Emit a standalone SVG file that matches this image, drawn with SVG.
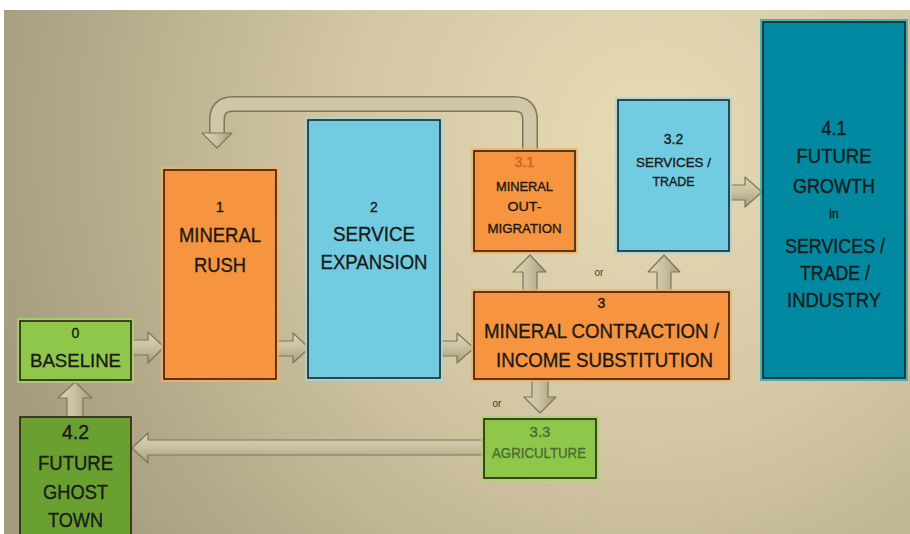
<svg xmlns="http://www.w3.org/2000/svg" width="910" height="534" viewBox="0 0 910 534">
<defs>
<radialGradient id="bg" gradientUnits="userSpaceOnUse" cx="650" cy="140" r="680">
<stop offset="0" stop-color="#e8dbb6"/>
<stop offset="0.45" stop-color="#d3c7a3"/>
<stop offset="1" stop-color="#a59c7f"/>
</radialGradient>
<linearGradient id="ah" x1="0" y1="0" x2="0" y2="1">
<stop offset="0" stop-color="#ddd6b8"/>
<stop offset="0.5" stop-color="#c8c0a0"/>
<stop offset="1" stop-color="#a39b7c"/>
</linearGradient>
<linearGradient id="av" x1="0" y1="0" x2="1" y2="0">
<stop offset="0" stop-color="#ddd6b8"/>
<stop offset="0.5" stop-color="#c8c0a0"/>
<stop offset="1" stop-color="#a39b7c"/>
</linearGradient>
</defs>
<style>
.t{font-family:"Liberation Sans",Arial,sans-serif;fill:#1a1a1a;stroke:#1a1a1a;stroke-width:0.35;text-anchor:middle}
.b{font-size:20px}
.n{font-size:14px}
.s{font-size:13px}
.box{stroke:#2a2016;stroke-width:1.6}
.or{fill:#f7943f}
.org{fill:none;stroke:#ffab5c;stroke-width:6;opacity:0.8}
.bl{fill:#72cce1}
.blg{fill:none;stroke:#8fdcee;stroke-width:6;opacity:0.8}
.tl{fill:#0089a0}
.tlg{fill:none;stroke:#27a7bd;stroke-width:6;opacity:0.8}
.gr{fill:#8fc74a}
.grg{fill:none;stroke:#a4d866;stroke-width:6;opacity:0.8}
.dg{fill:#6aa02f}
.ha{fill:url(#ah);stroke:#7d765d;stroke-width:1.2;stroke-linejoin:round}
.va{fill:url(#av);stroke:#7d765d;stroke-width:1.2;stroke-linejoin:round}
.ort{font-family:"Liberation Sans",Arial,sans-serif;font-size:10px;fill:#3a3a30;text-anchor:middle}
</style>
<rect x="0" y="0" width="910" height="534" fill="#ffffff"/>
<rect x="4" y="10" width="906" height="524" fill="url(#bg)"/>

<g id="connectors">
<path d="M530,150 V120 Q530,104 514,104 H233 Q217,104 217,120 V134" fill="none" stroke="#7d765d" stroke-width="16"/>
<path d="M530,150 V120 Q530,104 514,104 H233 Q217,104 217,120 V134" fill="none" stroke="#cfc7a7" stroke-width="13"/>
<polygon class="va" points="202,133 232,133 217,148"/>
<polygon class="ha" points="131,340 148,340 148,332 164,347 148,363 148,355 131,355"/>
<polygon class="ha" points="276,341 293,341 293,333 309,348 293,363 293,356 276,356"/>
<polygon class="ha" points="440,341 457,341 457,333 474,348 457,363 457,356 440,356"/>
<polygon class="va" points="523,291 523,272 513,272 530,255 546,272 537,272 537,291"/>
<polygon class="va" points="657,291 657,272 648,272 664,255 680,272 671,272 671,291"/>
<polygon class="ha" points="729,185 745,185 745,177 762,192 745,207 745,200 729,200"/>
<polygon class="va" points="532,380 532,397 524,397 540,413 556,397 548,397 548,380"/>
<polygon class="ha" points="484,440 148,440 148,433 132,448 148,463 148,455 484,455"/>
<polygon class="va" points="67,417 67,398 58,398 75,382 92,398 83,398 83,417"/>
<text class="ort" x="599" y="276">or</text>
<text class="ort" x="497" y="407">or</text>
</g>

<g id="n0">
<rect class="grg" x="20" y="321" width="111" height="59"/>
<rect class="gr box" x="20" y="321" width="111" height="59"/>
<text class="t n" x="75.5" y="338">0</text>
<text class="t" font-size="19" x="75.5" y="367" textLength="91" lengthAdjust="spacingAndGlyphs">BASELINE</text>
</g>

<g id="n42">
<rect class="dg box" x="20" y="417" width="111" height="120"/>
<text class="t b" x="75.5" y="439" textLength="27" lengthAdjust="spacingAndGlyphs">4.2</text>
<text class="t b" x="75.5" y="470" textLength="75" lengthAdjust="spacingAndGlyphs">FUTURE</text>
<text class="t b" x="75.5" y="499" textLength="65" lengthAdjust="spacingAndGlyphs">GHOST</text>
<text class="t b" x="75.5" y="527" textLength="55" lengthAdjust="spacingAndGlyphs">TOWN</text>
</g>

<g id="n1">
<rect class="org" x="164" y="170" width="112" height="209"/>
<rect class="or box" x="164" y="170" width="112" height="209"/>
<text class="t n" x="220" y="212">1</text>
<text class="t b" x="220" y="242" textLength="82" lengthAdjust="spacingAndGlyphs">MINERAL</text>
<text class="t b" x="220" y="272" textLength="52" lengthAdjust="spacingAndGlyphs">RUSH</text>
</g>

<g id="n2">
<rect class="blg" x="308" y="120" width="132" height="258"/>
<rect class="bl box" x="308" y="120" width="132" height="258"/>
<text class="t n" x="374" y="212">2</text>
<text class="t b" x="374" y="241" textLength="82" lengthAdjust="spacingAndGlyphs">SERVICE</text>
<text class="t b" x="374" y="269" textLength="107" lengthAdjust="spacingAndGlyphs">EXPANSION</text>
</g>

<g id="n31">
<rect class="org" x="474" y="151" width="101" height="100"/>
<rect class="or box" x="474" y="151" width="101" height="100"/>
<text class="t n" x="524.5" y="167" style="fill:#d55d29;stroke:#d55d29">3.1</text>
<text class="t s" x="524.5" y="191" textLength="57" lengthAdjust="spacingAndGlyphs">MINERAL</text>
<text class="t s" x="524.5" y="211" textLength="34" lengthAdjust="spacingAndGlyphs">OUT-</text>
<text class="t s" x="524.5" y="233" textLength="74" lengthAdjust="spacingAndGlyphs">MIGRATION</text>
</g>

<g id="n32">
<rect class="blg" x="618" y="100" width="111" height="151"/>
<rect class="bl box" x="618" y="100" width="111" height="151"/>
<text class="t n" x="673.5" y="144">3.2</text>
<text class="t s" x="673.5" y="167" textLength="75" lengthAdjust="spacingAndGlyphs">SERVICES /</text>
<text class="t s" x="673.5" y="186" textLength="42" lengthAdjust="spacingAndGlyphs">TRADE</text>
</g>

<g id="n3">
<rect class="org" x="474" y="292" width="255" height="87"/>
<rect class="or box" x="474" y="292" width="255" height="87"/>
<text class="t n" x="601.5" y="308">3</text>
<text class="t b" x="601.5" y="338" textLength="235" lengthAdjust="spacingAndGlyphs">MINERAL CONTRACTION /</text>
<text class="t b" x="604.5" y="367" textLength="217" lengthAdjust="spacingAndGlyphs">INCOME SUBSTITUTION</text>
</g>

<g id="n33">
<rect class="grg" x="484" y="419" width="112" height="59"/>
<rect class="gr box" x="484" y="419" width="112" height="59"/>
<text class="t" font-size="15" x="540" y="437" style="fill:#4d6a33;stroke:#4d6a33" textLength="21" lengthAdjust="spacingAndGlyphs">3.3</text>
<text class="t" font-size="14" x="539" y="458" style="fill:#4d6a33;stroke:#4d6a33" textLength="94" lengthAdjust="spacingAndGlyphs">AGRICULTURE</text>
</g>

<g id="n41">
<rect class="tlg" x="763" y="22" width="142" height="356"/>
<rect class="tl box" x="763" y="22" width="142" height="356"/>
<text class="t b" x="834" y="135" textLength="25" lengthAdjust="spacingAndGlyphs">4.1</text>
<text class="t b" x="834" y="163" textLength="75" lengthAdjust="spacingAndGlyphs">FUTURE</text>
<text class="t b" x="834" y="193" textLength="82" lengthAdjust="spacingAndGlyphs">GROWTH</text>
<text class="t" font-size="12" x="834" y="218">in</text>
<text class="t b" x="835" y="253" textLength="100" lengthAdjust="spacingAndGlyphs">SERVICES /</text>
<text class="t b" x="835" y="280" textLength="70" lengthAdjust="spacingAndGlyphs">TRADE /</text>
<text class="t b" x="834" y="307" textLength="94" lengthAdjust="spacingAndGlyphs">INDUSTRY</text>
</g>
</svg>
